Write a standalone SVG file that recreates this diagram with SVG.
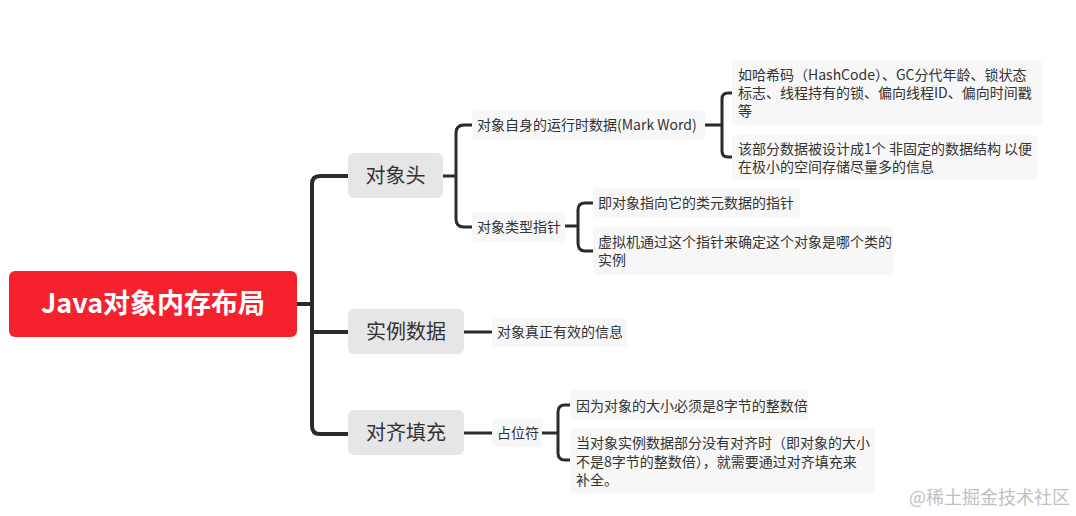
<svg xmlns="http://www.w3.org/2000/svg" width="1076" height="516" viewBox="0 0 1076 516">
<style>
.t{font-family:"Noto Sans CJK SC","Noto Sans",sans-serif;fill:#333}
.l1{font-size:20px}
.l2{font-size:14px}
.b1{fill:#e6e6e6}
.b2{fill:#f7f7f7}
.c1{fill:none;stroke:#2b2b2b;stroke-width:4;stroke-linecap:round}
.c2{fill:none;stroke:#2b2b2b;stroke-width:3;stroke-linecap:round}
</style>
<rect width="1076" height="516" fill="#fff"/>
<g id="connectors">
<path class="c1" d="M297,304 H312 M348,176 H320 Q312,176 312,184 V426 Q312,434 320,434 H348 M312,332 H348"/>
<path class="c2" d="M443,176 H456 M472,125 H464 Q456,125 456,133 V219 Q456,227 464,227 H472"/>
<path class="c2" d="M705,125 H722 M732,93 H728 Q722,93 722,99 V151 Q722,157 728,157 H732"/>
<path class="c2" d="M565,226 H578 M593,203 H585 Q578,203 578,210 V243 Q578,251 585,251 H593"/>
<path class="c2" d="M464,332 H492"/>
<path class="c2" d="M464,433 H492 M542,433 H558 M570,405 H565 Q558,405 558,412 V453 Q558,460 565,460 H570"/>
</g>
<g id="root">
<rect x="9" y="271" width="288" height="66" rx="6" fill="#f5222d"/>
<text x="153" y="313" text-anchor="middle" font-family="'Noto Sans CJK SC','Noto Sans',sans-serif" font-size="27" font-weight="bold" fill="#fff">Java对象内存布局</text>
</g>
<g id="header">
<rect class="b1" x="348" y="153" width="95" height="45" rx="6"/>
<text class="t l1" x="395.5" y="183" text-anchor="middle">对象头</text>
</g>
<g id="instance">
<rect class="b1" x="348" y="309" width="116" height="45" rx="6"/>
<text class="t l1" x="406" y="339" text-anchor="middle">实例数据</text>
</g>
<g id="padding">
<rect class="b1" x="348" y="410" width="116" height="45" rx="6"/>
<text class="t l1" x="406" y="440" text-anchor="middle">对齐填充</text>
</g>
<g id="markword">
<rect class="b2" x="472" y="110" width="233" height="30" rx="4"/>
<text class="t l2" x="477" y="130">对象自身的运行时数据(Mark Word)</text>
</g>
<g id="klass">
<rect class="b2" x="472" y="212" width="93" height="30" rx="4"/>
<text class="t l2" x="477" y="232">对象类型指针</text>
</g>
<g id="mw1">
<rect class="b2" x="732" y="60" width="310" height="65" rx="4"/>
<text class="t l2" x="738" y="80">如哈希码（HashCode）、GC分代年龄、锁状态</text>
<text class="t l2" x="738" y="98">标志、线程持有的锁、偏向线程ID、偏向时间戳</text>
<text class="t l2" x="738" y="116">等</text>
</g>
<g id="mw2">
<rect class="b2" x="732" y="135" width="306" height="45" rx="4"/>
<text class="t l2" x="738" y="154">该部分数据被设计成1个 非固定的数据结构 以便</text>
<text class="t l2" x="738" y="172">在极小的空间存储尽量多的信息</text>
</g>
<g id="kp1">
<rect class="b2" x="593" y="188" width="207" height="29" rx="4"/>
<text class="t l2" x="598" y="208">即对象指向它的类元数据的指针</text>
</g>
<g id="kp2">
<rect class="b2" x="593" y="227" width="300" height="48" rx="4"/>
<text class="t l2" x="598" y="247">虚拟机通过这个指针来确定这个对象是哪个类的</text>
<text class="t l2" x="598" y="265">实例</text>
</g>
<g id="effective">
<rect class="b2" x="492" y="318" width="135" height="29" rx="4"/>
<text class="t l2" x="497" y="337">对象真正有效的信息</text>
</g>
<g id="placeholder">
<rect class="b2" x="492" y="418" width="50" height="29" rx="4"/>
<text class="t l2" x="497" y="438">占位符</text>
</g>
<g id="pd1">
<rect class="b2" x="570" y="390" width="238" height="30" rx="4"/>
<text class="t l2" x="576" y="411">因为对象的大小必须是8字节的整数倍</text>
</g>
<g id="pd2">
<rect class="b2" x="570" y="428" width="305" height="65" rx="4"/>
<text class="t l2" x="576" y="448">当对象实例数据部分没有对齐时（即对象的大小</text>
<text class="t l2" x="576" y="467">不是8字节的整数倍），就需要通过对齐填充来</text>
<text class="t l2" x="576" y="485">补全。</text>
</g>
<text x="1070" y="504" text-anchor="end" font-family="'Noto Sans CJK SC',sans-serif" font-size="18" fill="#c0c0c0">@稀土掘金技术社区</text>
</svg>
